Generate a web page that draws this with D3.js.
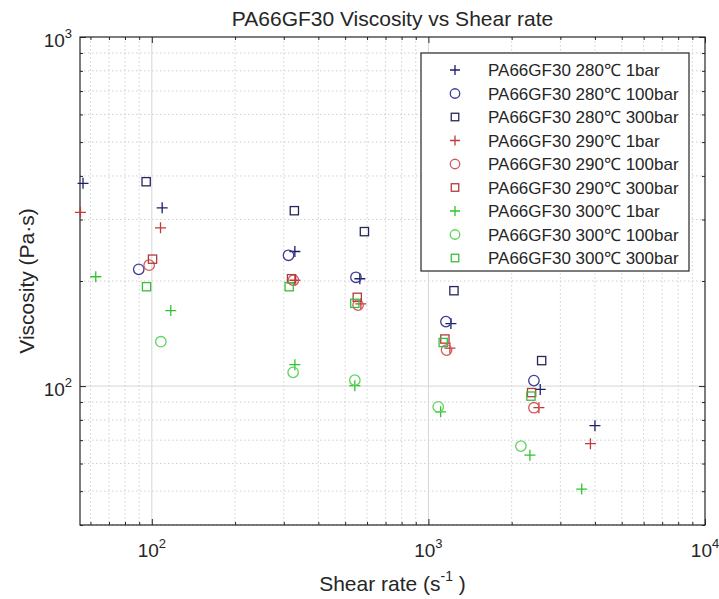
<!DOCTYPE html>
<html>
<head>
<meta charset="utf-8">
<script src="https://cdn.jsdelivr.net/npm/d3@7"></script>
<style>
  html, body { margin: 0; padding: 0; background: #ffffff; }
  svg { display: block; }
  text { font-family: "Liberation Sans", Arial, Helvetica, sans-serif; fill: #262626; }
</style>
</head>
<body>
<svg id="chart" width="719" height="599"></svg>
<script>
// ---------------- DATA ----------------
const seriesNames = [
  "PA66GF30 280℃ 1bar", "PA66GF30 280℃ 100bar", "PA66GF30 280℃ 300bar",
  "PA66GF30 290℃ 1bar", "PA66GF30 290℃ 100bar", "PA66GF30 290℃ 300bar",
  "PA66GF30 300℃ 1bar", "PA66GF30 300℃ 100bar", "PA66GF30 300℃ 300bar"
];
const seriesMarkers = ["plus", "circle", "square", "plus", "circle", "square", "plus", "circle", "square"];
const seriesColors = ["#1e1e6e", "#3c3c98", "#26265c", "#c23a3a", "#d25c5c", "#b03c3c", "#2fc42f", "#5cd45c", "#3cbc3c"];

// shear rate (1/s) and viscosity (Pa·s) per series
const rate280_1   = [56.4, 109, 329, 565, 1206, 2537, 4001];
const visc280_1   = [381, 324, 243, 203, 151, 97.8, 77.0];
const rate280_100 = [89.7, 312, 547, 1157, 2407];
const visc280_100 = [216, 237, 205, 153, 103.7];
const rate280_300 = [95.4, 327.6, 587, 1237, 2567];
const visc280_300 = [385, 318, 277, 187.6, 118.3];
const rate290_1   = [55.2, 107.5, 329, 570, 1196, 2509, 3853];
const visc290_1   = [314.6, 284, 201, 172, 128.5, 86.7, 68.4];
const rate290_100 = [97.8, 325, 557, 1163, 2407];
const visc290_100 = [222, 201, 170.6, 126.8, 86.7];
const rate290_300 = [100.6, 320, 553, 1147, 2361];
const visc290_300 = [231, 203, 179.6, 136.4, 95.8];
const rate300_1   = [62.7, 117.1, 329, 542, 1107, 2328, 3583];
const visc300_1   = [205.7, 164.5, 115.2, 100.3, 84.4, 63.4, 50.7];
const rate300_100 = [107.8, 324.3, 542, 1085, 2160];
const visc300_100 = [134.0, 109.5, 104.0, 87.2, 67.3];
const rate300_300 = [95.7, 313.8, 542, 1131, 2348];
const visc300_300 = [192.6, 192.6, 172.6, 133.3, 93.6];

const seriesRates = [rate280_1, rate280_100, rate280_300, rate290_1, rate290_100, rate290_300, rate300_1, rate300_100, rate300_300];
const seriesVisc  = [visc280_1, visc280_100, visc280_300, visc290_1, visc290_100, visc290_300, visc300_1, visc300_100, visc300_300];

const xDomain = [55, 10000];
const yDomain = [40, 1000];
const xMajorTicks = [100, 1000, 10000];
const yMajorTicks = [100, 1000];
const xMajorLabels = ["2", "3", "4"];
const yMajorLabels = ["2", "3"];

const titleText = "PA66GF30 Viscosity vs Shear rate";
const yLabelText = "Viscosity (Pa·s)";

// ---------------- LAYOUT ----------------
const L = 80, R = 705, T = 37, B = 525;
const svg = d3.select("#chart");
const x = d3.scaleLog().domain(xDomain).range([L, R]);
const y = d3.scaleLog().domain(yDomain).range([B, T]);

function minorTicks(domain) {
  const out = [];
  for (let e = Math.floor(Math.log10(domain[0])); e <= Math.ceil(Math.log10(domain[1])); e++) {
    for (let m = 1; m <= 9; m++) {
      const v = m * Math.pow(10, e);
      if (v >= domain[0] - 1e-9 && v <= domain[1] + 1e-9) out.push(v);
    }
  }
  return out;
}
const xMinor = minorTicks(xDomain).filter(v => !xMajorTicks.includes(v));
const yMinor = minorTicks(yDomain).filter(v => !yMajorTicks.includes(v));

// background
svg.append("rect").attr("x", 0).attr("y", 0).attr("width", 719).attr("height", 599).attr("fill", "#fff");
svg.append("rect").attr("x", L).attr("y", T).attr("width", R - L).attr("height", B - T).attr("fill", "#fff");

// grid
const grid = svg.append("g");
grid.selectAll(".gxm").data(xMinor).enter().append("line")
  .attr("x1", d => x(d)).attr("x2", d => x(d)).attr("y1", T).attr("y2", B)
  .attr("stroke", "#cfcfcf").attr("stroke-width", 1).attr("stroke-dasharray", "1.5,2.5");
grid.selectAll(".gym").data(yMinor).enter().append("line")
  .attr("y1", d => y(d)).attr("y2", d => y(d)).attr("x1", L).attr("x2", R)
  .attr("stroke", "#cfcfcf").attr("stroke-width", 1).attr("stroke-dasharray", "1.5,2.5");
grid.selectAll(".gxM").data(xMajorTicks.filter(v => v < xDomain[1])).enter().append("line")
  .attr("x1", d => x(d)).attr("x2", d => x(d)).attr("y1", T).attr("y2", B)
  .attr("stroke", "#d6d6d6").attr("stroke-width", 1);
grid.selectAll(".gyM").data(yMajorTicks.filter(v => v < yDomain[1])).enter().append("line")
  .attr("y1", d => y(d)).attr("y2", d => y(d)).attr("x1", L).attr("x2", R)
  .attr("stroke", "#d6d6d6").attr("stroke-width", 1);

// axes (ticks inward on all four sides)
function addAxis(gen, tx, ty) {
  const g = svg.append("g").attr("transform", `translate(${tx},${ty})`).call(gen);
  g.selectAll("text").remove();
  g.select(".domain").remove();
  g.selectAll("line").attr("stroke", "#262626").attr("stroke-width", 1);
  return g;
}
addAxis(d3.axisBottom(x).tickValues(xMinor).tickSize(-3).tickFormat(""), 0, B);
addAxis(d3.axisBottom(x).tickValues(xMajorTicks).tickSize(-6).tickFormat(""), 0, B);
addAxis(d3.axisTop(x).tickValues(xMinor).tickSize(-3).tickFormat(""), 0, T);
addAxis(d3.axisTop(x).tickValues(xMajorTicks).tickSize(-6).tickFormat(""), 0, T);
addAxis(d3.axisLeft(y).tickValues(yMinor).tickSize(-3).tickFormat(""), L, 0);
addAxis(d3.axisLeft(y).tickValues(yMajorTicks).tickSize(-6).tickFormat(""), L, 0);
addAxis(d3.axisRight(y).tickValues(yMinor).tickSize(-3).tickFormat(""), R, 0);
addAxis(d3.axisRight(y).tickValues(yMajorTicks).tickSize(-6).tickFormat(""), R, 0);

// box
svg.append("rect").attr("x", L).attr("y", T).attr("width", R - L).attr("height", B - T)
  .attr("fill", "none").attr("stroke", "#262626").attr("stroke-width", 1.2);

// tick labels
xMajorTicks.forEach((v, i) => {
  const t = svg.append("text").attr("x", x(v)).attr("y", B + 32)
    .attr("text-anchor", "middle").attr("font-size", 19);
  t.append("tspan").text("10");
  t.append("tspan").attr("dy", -9).attr("font-size", 13).text(xMajorLabels[i]);
});
yMajorTicks.forEach((v, i) => {
  const t = svg.append("text").attr("x", L - 8).attr("y", y(v) + 10)
    .attr("text-anchor", "end").attr("font-size", 19);
  t.append("tspan").text("10");
  t.append("tspan").attr("dy", -9).attr("font-size", 13).text(yMajorLabels[i]);
});

// title & axis labels
svg.append("text").attr("x", (L + R) / 2).attr("y", 26).attr("text-anchor", "middle")
  .attr("font-size", 21).text(titleText);
const xl = svg.append("text").attr("x", (L + R) / 2).attr("y", 591).attr("text-anchor", "middle").attr("font-size", 21);
xl.append("tspan").text("Shear rate (s");
xl.append("tspan").attr("dy", -10).attr("font-size", 14).text("-1");
xl.append("tspan").attr("dy", 10).text(" )");
svg.append("text").attr("transform", `translate(34,${(T + B) / 2}) rotate(-90)`)
  .attr("text-anchor", "middle").attr("font-size", 21).text(yLabelText);

// markers
function drawMarker(g, type, cx, cy, color, s) {
  if (type === "plus") {
    g.append("path").attr("d", `M${cx - s},${cy}H${cx + s}M${cx},${cy - s}V${cy + s}`)
      .attr("stroke", color).attr("stroke-width", 1.3).attr("fill", "none");
  } else if (type === "circle") {
    g.append("circle").attr("cx", cx).attr("cy", cy).attr("r", s * 0.95)
      .attr("stroke", color).attr("stroke-width", 1.3).attr("fill", "none");
  } else {
    const h = s * 0.75;
    g.append("rect").attr("x", cx - h).attr("y", cy - h).attr("width", 2 * h).attr("height", 2 * h)
      .attr("stroke", color).attr("stroke-width", 1.3).attr("fill", "none");
  }
}
const marks = svg.append("g");
seriesNames.forEach((name, i) => {
  const pts = seriesRates[i].map((r, j) => ({ r: r, v: seriesVisc[i][j] }));
  const g = marks.append("g");
  pts.forEach(p => drawMarker(g, seriesMarkers[i], x(p.r), y(p.v), seriesColors[i], 5.5));
});

// legend
const lgX = 421, lgY = 53, lgW = 268, lgH = 218, rowH = 23.5, row0 = 70;
const lg = svg.append("g");
lg.append("rect").attr("x", lgX).attr("y", lgY).attr("width", lgW).attr("height", lgH)
  .attr("fill", "#fff").attr("stroke", "#262626").attr("stroke-width", 1.2);
seriesNames.forEach((name, i) => {
  const cy = row0 + i * rowH;
  drawMarker(lg, seriesMarkers[i], 455, cy, seriesColors[i], 5);
  lg.append("text").attr("x", 488).attr("y", cy + 6).attr("font-size", 17).text(name);
});
</script>
</body>
</html>
